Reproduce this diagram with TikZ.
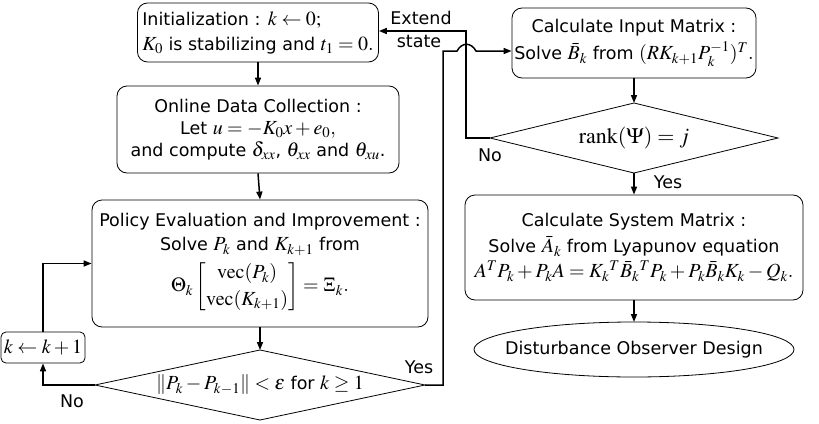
\documentclass[tikz,border=0pt]{standalone}
\usepackage{amsmath}
\usepackage{mathptmx}
\usepackage[no-math]{fontspec}
\setmainfont{DejaVu Sans}
\usetikzlibrary{shapes.geometric,arrows.meta}
\newcommand\mm[1]{{\fontsize{20}{22}\selectfont$#1$}}
\tikzset{
 box/.style={draw, rounded corners=10pt, line width=0.8pt, align=center, inner sep=2pt},
 conn/.style={line width=1.5pt, -{Triangle[length=8pt,width=6pt]}},
 shapeonly/.style={draw, line width=0.8pt, inner sep=0pt, outer sep=0pt},
 lbl/.style={inner sep=0pt},
}
\begin{document}
\begin{tikzpicture}[x=1pt,y=-1pt, font=\fontsize{17.5}{22}\selectfont]
\useasboundingbox (0,0) rectangle (819,423);
% left column
\node[box, minimum width=241, minimum height=59, align=left] (init) at (258,32.5)
  {Initialization : \mm{k\leftarrow 0;}\\[3pt] \mm{K_0} is stabilizing and \mm{t_1=0.}};
\node[box, minimum width=282, minimum height=87] (odc) at (258,129.5)
  {Online Data Collection :\\ Let \mm{u=-K_0x+e_0,}\\ and compute \mm{\delta_{xx}}, \mm{\theta_{xx}} and \mm{\theta_{xu}}.};
\node[box, minimum width=336, minimum height=127] (pei) at (260,263.5)
  {Policy Evaluation and Improvement :\\[2pt] Solve \mm{P_k} and \mm{K_{k+1}} from\\[4pt]
   {\renewcommand\arraystretch{1.2}\mm{\Theta_k\begin{bmatrix}\mathrm{vec}(P_k)\\ \mathrm{vec}(K_{k+1})\end{bmatrix}=\Xi_k.}}};
\node[shapeonly, diamond, minimum width=330, minimum height=70] (d1) at (260,385) {};
\node[lbl] (d1t) at (d1.center) {\mm{\|P_k-P_{k-1}\|<\varepsilon} for \mm{k\geq 1}};
\node[box, rounded corners=5pt, minimum width=84, minimum height=31, inner sep=1pt] (inc) at (43,347.5) {\mm{k\leftarrow k+1}};
% right column
\node[box, minimum width=244, minimum height=70] (inp) at (634,43)
  {Calculate Input Matrix :\\[5pt] Solve \mm{\bar B_k} from \mm{(RK_{k+1}P_k^{-1})^T.}};
\node[shapeonly, diamond, minimum width=288, minimum height=70] (d2) at (634,138) {};
\node[lbl, font=\fontsize{22}{24}\selectfont] (d2t) at (d2.center) {$\mathrm{rank}(\Psi)=j$};
\node[box, minimum width=338, minimum height=105] (sys) at (634,247.5)
  {Calculate System Matrix :\\[4pt] Solve \mm{\bar A_k} from Lyapunov equation\\[3pt]
   \mm{A^TP_k+P_kA=K_k{}^T\bar B_k{}^TP_k+P_k\bar B_kK_k-Q_k.}};
\node[shapeonly, ellipse, minimum width=320, minimum height=55] (dob) at (634,349.5) {};
\node[lbl] (dobt) at (dob.center) {Disturbance Observer Design};
% labels
\node[lbl] (ext) at (421,18) {Extend};
\node[lbl] (st) at (419,41) {state};
\node[lbl] (no1) at (72,401) {No};
\node[lbl] (yes1) at (419,367) {Yes};
\node[lbl] (no2) at (490,155) {No};
\node[lbl] (yes2) at (668,182) {Yes};
% helper coordinates
\coordinate (j1) at (443,51);
\coordinate (j2) at (466,31);
\coordinate (h1) at (457,51);
\coordinate (h2) at (476,51);
% connectors
\draw[conn] (init.south) -- (odc.north);
\draw[conn] (odc.south) -- (pei.north);
\draw[conn] (pei.south) -- (d1.north);
\draw[conn] (d1.west) -| (inc.south);
\draw[conn] (inc.north) |- (pei.west);
\draw[conn] (d2.west) -| (j2) -- (init.east |- j2);
\draw[conn] (d1.east) -| (j1) -- (h1) .. controls (462,42) and (471,42) .. (h2) -- (inp.west |- j1);
\draw[conn] (inp.south) -- (d2.north);
\draw[conn] (d2.south) -- (sys.north);
\draw[conn] (sys.south) -- (dob.north);
\end{tikzpicture}
\end{document}
